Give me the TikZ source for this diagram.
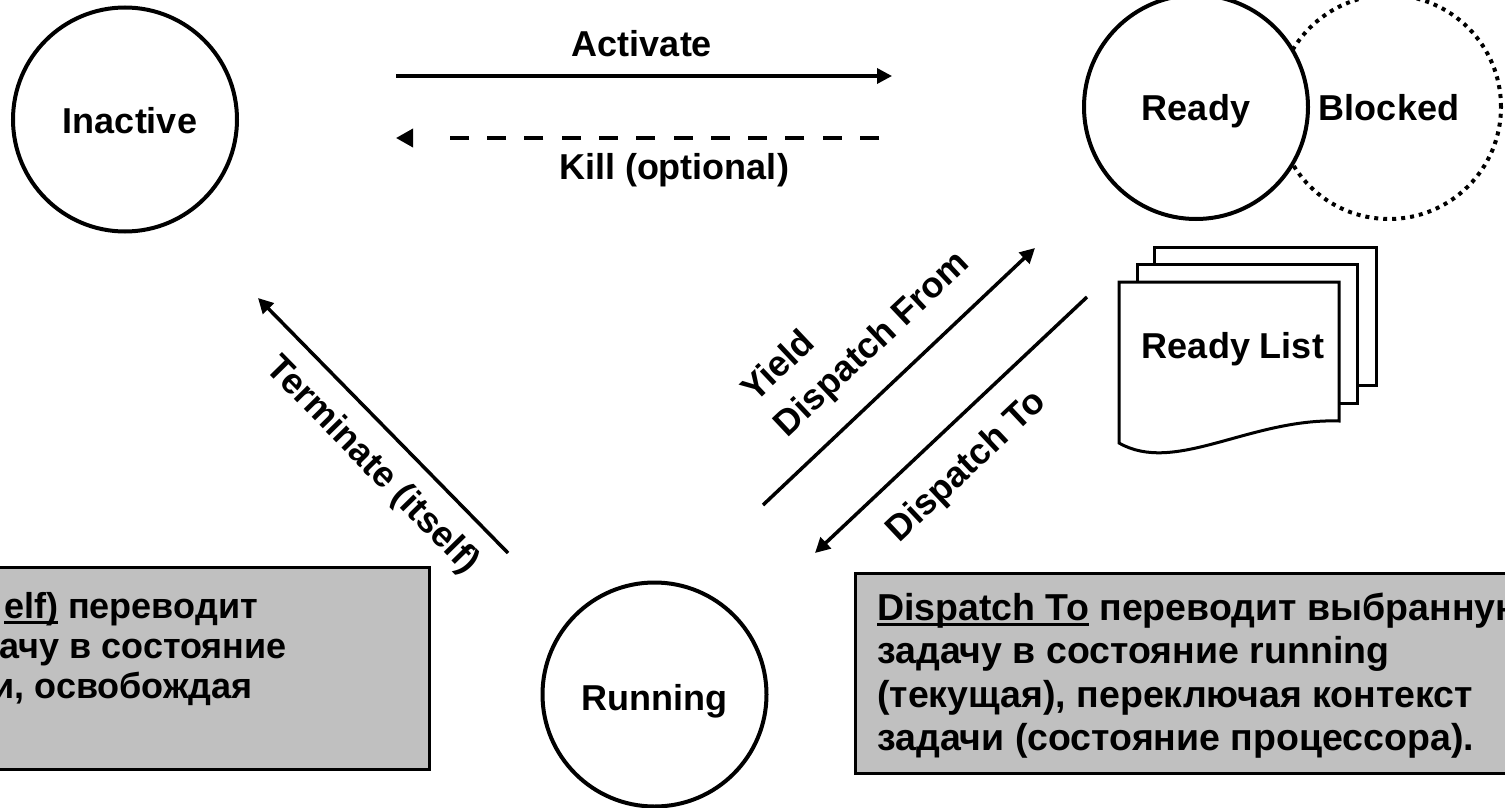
\documentclass[tikz,border=0pt]{standalone}
\usepackage{fontspec}
\setmainfont{Liberation Sans}
\usetikzlibrary{arrows.meta}
\definecolor{notegray}{RGB}{192,192,192}
\newcommand\myul[1]{\setbox0\hbox{#1}\rlap{\rule[-6pt]{\wd0}{3pt}}\box0\relax}
\begin{document}
\begin{tikzpicture}[x=1pt,y=-1pt,
  lblfont/.style={font=\fontsize{36}{41}\selectfont\bfseries},
  state/.style={circle, draw, line width=4pt, minimum size=224pt, inner sep=0pt, fill=white, text depth=0pt, lblfont},
  arr/.style={line width=3.5pt, -{Triangle[length=15pt,width=15pt]}},
  sheet/.style={draw, line width=3pt, fill=white, line join=miter},
  note/.style={draw, line width=3pt, fill=notegray, inner sep=0pt},
  txt/.style={inner sep=0pt, lblfont},
  notetxt/.style={inner sep=0pt, font=\fontsize{37.5}{43}\selectfont\bfseries},
]
\useasboundingbox (0,0) rectangle (1505,808);
\clip (0,0) rectangle (1505,808);

% states
\node[state, dash pattern=on 4pt off 5pt] (blocked) at (1389,107) {Blocked};
\node[state] (ready) at (1196,107) {\raisebox{-1pt}{Ready}};
\node[state] (inactive) at (125,119.5) {\hspace*{10pt}\raisebox{-2pt}{Inactive}};
\node[state] (running) at (654.5,694.5) {\raisebox{-5pt}{Running}};

% Activate / Kill
\coordinate (actS) at (396,76);
\coordinate (actE) at (892,76);
\draw[arr] (actS) -- (actE);
\node[txt] (actlbl) at (642,44) {Activate};

\coordinate (killS) at (879,138);
\coordinate (killE) at (396,138);
\draw[line width=3.5pt, -{Triangle[length=17pt,width=18pt]}, dash pattern=on 19pt off 18.3pt on 19pt off 18.3pt on 19pt off 18.3pt on 19pt off 18.3pt on 19pt off 18.3pt on 19pt off 18.3pt on 19pt off 18.3pt on 19pt off 18.3pt on 19pt off 18.3pt on 19pt off 18.3pt on 19pt off 18.3pt on 19pt off 300pt] (killS) -- (killE);
\node[txt] (killlbl) at (674,170) {Kill (optional)};

% diagonal transitions
\coordinate (dfS) at (763,505);
\coordinate (dfE) at (1035,248);
\draw[arr] (dfS) -- (dfE);
\coordinate (dtS) at (1087,297);
\coordinate (dtE) at (815,553);
\draw[arr] (dtS) -- (dtE);
\coordinate (tmS) at (508,553);
\coordinate (tmE) at (258,298);
\draw[arr] (tmS) -- (tmE);

\node[txt, rotate=-45.6] (tmlbl) at (372,466) {Terminate (itself)};
\node[txt, rotate=43.3] (yieldlbl) at (777,365) {Yield};
\node[txt, rotate=43.3] (dflbl) at (873,345) {Dispatch From};
\node[txt, rotate=43.3] (dtlbl) at (967,467) {Dispatch To};

% ready list
\draw[sheet] (1154,247) rectangle (1376,385);
\draw[sheet] (1137,264) rectangle (1357,403);
\draw[sheet] (1119,282) -- (1339,282) -- (1339,421) .. controls (1250,418) and (1175,475) .. (1119,443) -- cycle;
\node[txt, anchor=base] (rlist) at (1233,358) {Ready List};

% notes
\node[note, minimum width=439pt, minimum height=202pt] (tbox) at (209.5,668) {};
\node[note, minimum width=665pt, minimum height=200pt] (dbox) at (1187.5,673) {};

\node[txt, anchor=base east] (t1) at (258,618) {\myul{elf)} переводит};
\node[txt, anchor=base east] (t2) at (287,658) {ачу в состояние};
\node[txt, anchor=base east] (t3) at (253,698) {и, освобождая};

\node[notetxt, anchor=base west] (d1) at (877,620) {\myul{Dispatch To} переводит выбранную};
\node[notetxt, anchor=base west] (d2) at (877,663) {задачу в состояние running};
\node[notetxt, anchor=base west] (d3) at (877,707) {(текущая), переключая контекст};
\node[notetxt, anchor=base west] (d4) at (877,750) {задачи (состояние процессора).};
\end{tikzpicture}
\end{document}
